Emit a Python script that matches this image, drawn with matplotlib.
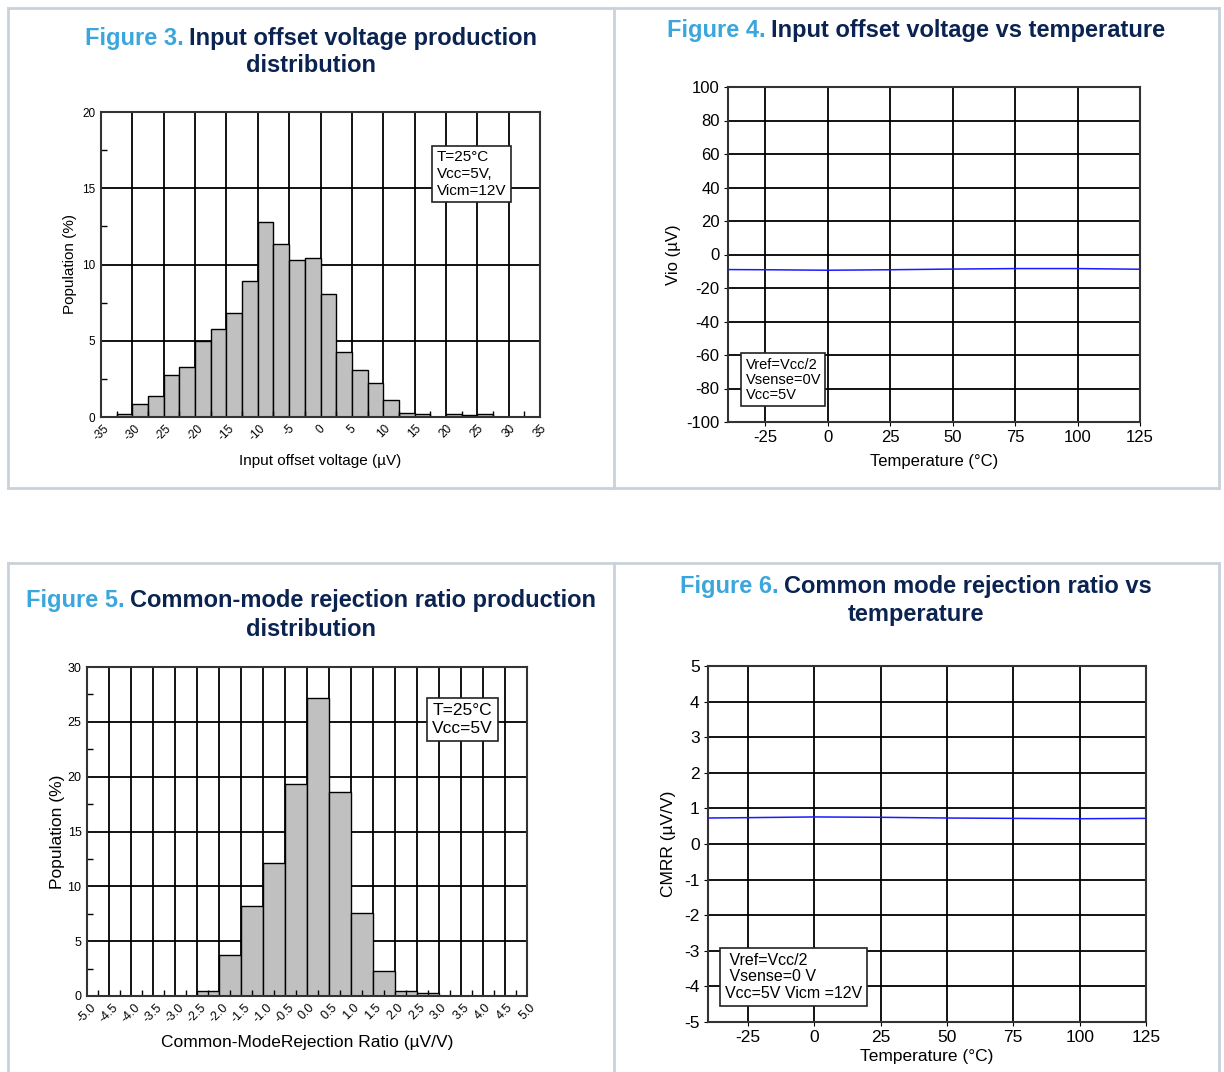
import matplotlib
matplotlib.use('Agg')
import matplotlib.pyplot as plt
from matplotlib.lines import Line2D
import numpy as np

# Figure 3 - input offset voltage histogram (bin left edge, % population)
vio_bin_left = [-32.5, -30, -27.5, -25, -22.5, -20, -17.5, -15, -12.5, -10, -7.5, -5,
                -2.5, 0, 2.5, 5, 7.5, 10, 12.5, 15, 17.5, 20, 22.5, 25]
vio_pop = [0.2, 0.85, 1.38, 2.73, 3.28, 4.98, 5.75, 6.8, 8.94, 12.77, 11.37, 10.32,
           10.43, 8.09, 4.24, 3.06, 2.21, 1.14, 0.28, 0.2, 0.0, 0.2, 0.1, 0.2]
vio_ticks = [-35, -30, -25, -20, -15, -10, -5, 0, 5, 10, 15, 20, 25, 30, 35]

# Figure 4 - Vio vs temperature
temp_vio = [-40, -25, 0, 25, 50, 75, 100, 125]
vio_temp = [-9.0, -9.1, -9.4, -9.1, -8.7, -8.4, -8.4, -8.8]

# Figure 5 - CMRR histogram
cmrr_bin_left = [-2.5, -2.0, -1.5, -1.0, -0.5, 0.0, 0.5, 1.0, 1.5, 2.0, 2.5]
cmrr_pop = [0.46, 3.74, 8.24, 12.16, 19.3, 27.17, 18.57, 7.6, 2.28, 0.46, 0.24]
cmrr_ticks = [-5.0, -4.5, -4.0, -3.5, -3.0, -2.5, -2.0, -1.5, -1.0, -0.5, 0.0,
              0.5, 1.0, 1.5, 2.0, 2.5, 3.0, 3.5, 4.0, 4.5, 5.0]

# Figure 6 - CMRR vs temperature
temp_cmrr = [-40, -25, 0, 25, 50, 75, 100, 125]
cmrr_temp = [0.73, 0.74, 0.76, 0.75, 0.73, 0.72, 0.71, 0.72]

temp_ticks = [-25, 0, 25, 50, 75, 100, 125]

W, H = 1224, 1072
BLUE = '#3aa6dc'
NAVY = '#0b2350'
BORDER = '#c9d2da'

plt.rcParams['font.family'] = 'Liberation Sans'
plt.rcParams['axes.unicode_minus'] = False

fig = plt.figure(figsize=(W / 100, H / 100), dpi=100)


def px_axes(left, top, right, bottom):
    return fig.add_axes([left / W, 1 - bottom / H, (right - left) / W, (bottom - top) / H])


def fline(x0, y0, x1, y1):
    fig.add_artist(Line2D([x0 / W, x1 / W], [1 - y0 / H, 1 - y1 / H],
                          color=BORDER, lw=2, transform=fig.transFigure))


# panel borders
fline(8, 8, 1219, 8)
fline(8, 488, 1219, 488)
fline(8, 8, 8, 488)
fline(1219, 8, 1219, 488)
fline(614, 8, 614, 488)
fline(8, 563, 1219, 563)
fline(8, 563, 8, 1072)
fline(1219, 563, 1219, 1072)
fline(614, 563, 614, 1072)

renderer = fig.canvas.get_renderer()
TSIZE = 17


def two_tone(cx, y, blue_txt, navy_txt, size=TSIZE):
    t1 = fig.text(0, 1 - y / H, blue_txt, color=BLUE, fontsize=size, weight='bold', va='center')
    t2 = fig.text(0, 1 - y / H, navy_txt, color=NAVY, fontsize=size, weight='bold', va='center')
    w1 = t1.get_window_extent(renderer).width
    w2 = t2.get_window_extent(renderer).width
    gap = 6
    x0 = cx - (w1 + gap + w2) / 2
    t1.set_x(x0 / W)
    t2.set_x((x0 + w1 + gap) / W)


def title_line(cx, y, txt, size=TSIZE):
    fig.text(cx / W, 1 - y / H, txt, color=NAVY, fontsize=size, weight='bold',
             ha='center', va='center')


two_tone(311, 38, 'Figure 3.', 'Input offset voltage production')
title_line(311, 66, 'distribution')
two_tone(916, 31, 'Figure 4.', 'Input offset voltage vs temperature')
two_tone(311, 601, 'Figure 5.', 'Common-mode rejection ratio production')
title_line(311, 630, 'distribution')
two_tone(916, 586, 'Figure 6.', 'Common mode rejection ratio vs')
title_line(916, 615, 'temperature')


def style_axes(ax):
    for s in ax.spines.values():
        s.set_color('#333333')
        s.set_linewidth(1.5)


def grid_lines(ax, xs, ys):
    for x in xs:
        ax.axvline(x, color='black', lw=1.3, zorder=0.5)
    for y in ys:
        ax.axhline(y, color='black', lw=1.3, zorder=0.5)


def box_text(ax, x, y, txt, size, ls=1.2):
    ax.text(x, y, txt, fontsize=size, ha='left', va='top', zorder=5, linespacing=ls,
            bbox=dict(boxstyle='square,pad=0.3', fc='white', ec='#222222', lw=1.2))


# ---- Figure 3
ax3 = px_axes(101, 112, 540, 417)
ax3.bar(vio_bin_left, vio_pop, width=2.5, align='edge', color='#c0c0c0',
        edgecolor='black', lw=1.0, zorder=1)
ax3.set_xlim(-35, 35)
ax3.set_ylim(0, 20)
grid_lines(ax3, vio_ticks[1:-1], [5, 10, 15])
ax3.set_xticks(vio_ticks)
ax3.set_xticklabels([str(t) for t in vio_ticks], rotation=45, fontsize=8.5,
                    ha='center', va='top')
ax3.set_yticks([0, 5, 10, 15, 20])
ax3.set_yticks(np.arange(2.5, 20, 5), minor=True)
ax3.set_xticks(np.arange(-32.5, 35, 5), minor=True)
ax3.tick_params(which='both', direction='in', labelsize=8.5)
ax3.tick_params(which='major', length=0, pad=4)
ax3.tick_params(which='minor', length=4, width=1)
ax3.set_xlabel('Input offset voltage (µV)', fontsize=11, labelpad=8)
ax3.set_ylabel('Population (%)', fontsize=11, labelpad=4)
style_axes(ax3)
box_text(ax3, 18.5, 17.5, 'T=25°C\nVcc=5V,\nVicm=12V', 11, 1.25)

# ---- Figure 4
ax4 = px_axes(728, 87, 1140, 422)
ax4.plot(temp_vio, vio_temp, color='#1a1aff', lw=1.1, zorder=3)
ax4.set_xlim(-40, 125)
ax4.set_ylim(-100, 100)
grid_lines(ax4, temp_ticks[:-1], list(range(-80, 100, 20)))
ax4.set_xticks(temp_ticks)
ax4.set_yticks(list(range(-100, 101, 20)))
ax4.tick_params(which='major', direction='out', length=3, labelsize=12, pad=3)
ax4.set_xlabel('Temperature (°C)', fontsize=12, labelpad=6)
ax4.set_ylabel('Vio (µV)', fontsize=12, labelpad=4)
style_axes(ax4)
box_text(ax4, -33, -61.5, 'Vref=Vcc/2\nVsense=0V\nVcc=5V', 10.5, 1.1)

# ---- Figure 5
ax5 = px_axes(87, 667, 527, 996)
ax5.bar(cmrr_bin_left, cmrr_pop, width=0.5, align='edge', color='#c0c0c0',
        edgecolor='black', lw=1.0, zorder=1)
ax5.set_xlim(-5, 5)
ax5.set_ylim(0, 30)
grid_lines(ax5, cmrr_ticks[1:-1], [5, 10, 15, 20, 25])
ax5.set_xticks(cmrr_ticks)
ax5.set_xticklabels(['%.1f' % t for t in cmrr_ticks], rotation=45, fontsize=9,
                    ha='center', va='top')
ax5.set_yticks([0, 5, 10, 15, 20, 25, 30])
ax5.set_yticks(np.arange(2.5, 30, 5), minor=True)
ax5.set_xticks(np.arange(-4.75, 5, 0.5), minor=True)
ax5.tick_params(which='both', direction='in', labelsize=9)
ax5.tick_params(which='major', length=0, pad=4)
ax5.tick_params(which='minor', length=4, width=1)
ax5.set_xlabel('Common-ModeRejection Ratio (µV/V)', fontsize=12.5, labelpad=7)
ax5.set_ylabel('Population (%)', fontsize=12.5, labelpad=2)
style_axes(ax5)
box_text(ax5, 2.85, 26.7, 'T=25°C\nVcc=5V', 12.5, 1.2)

# ---- Figure 6
ax6 = px_axes(708, 666, 1146, 1022)
ax6.plot(temp_cmrr, cmrr_temp, color='#1a1aff', lw=1.1, zorder=3)
ax6.set_xlim(-40, 125)
ax6.set_ylim(-5, 5)
grid_lines(ax6, temp_ticks[:-1], list(range(-4, 5)))
ax6.set_xticks(temp_ticks)
ax6.set_yticks(list(range(-5, 6)))
ax6.tick_params(which='major', direction='out', length=3, labelsize=12.5, pad=3)
ax6.set_xlabel('Temperature (°C)', fontsize=12.5, labelpad=3)
ax6.set_ylabel('CMRR (µV/V)', fontsize=12.5, labelpad=6)
style_axes(ax6)
box_text(ax6, -33.5, -3.05, ' Vref=Vcc/2\n Vsense=0 V\nVcc=5V Vicm =12V', 11.5, 1.15)

fig.savefig('out.png', dpi=100)
